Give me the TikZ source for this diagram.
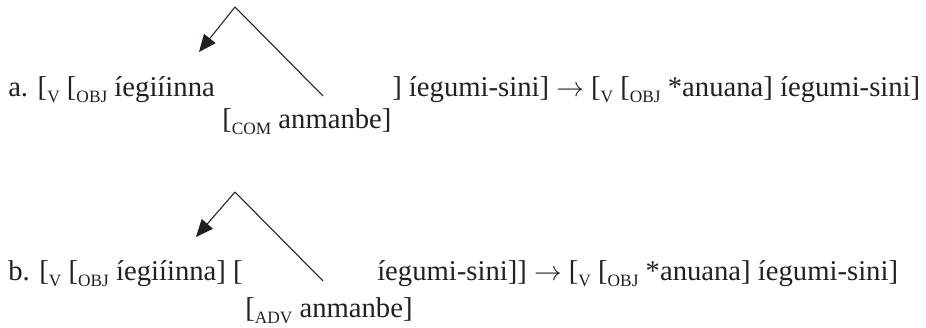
\documentclass[tikz,border=0pt]{standalone}
\usepackage{fontspec}
\setmainfont{Liberation Serif}
\usetikzlibrary{arrows.meta}
\newcommand{\catsub}[1]{\raisebox{-4.5pt}{\fontsize{13}{13}\selectfont #1}}
\definecolor{glossink}{HTML}{231F20}

\begin{document}
\begin{tikzpicture}[
  x=0.75pt,
  y=-0.75pt,
  every node/.style={font=\fontsize{21.5}{26}\selectfont, glossink, inner sep=0pt},
  gloss/.style={anchor=base west},
  moveline/.style={glossink, line width=0.8pt},
  movearrow/.style={glossink, line width=0.8pt, -{Triangle[length=13pt, width=11pt]}}
]
  \useasboundingbox (0,0) rectangle (926,328);

  % ---- example a ----
  \node[gloss] (exaLeft) at (8,97) {a. [\catsub{V} [\catsub{OBJ} íegiíinna};
  \node[gloss] (exaRight) at (392,97)
    {] íegumi-sini] $\rightarrow$ [\catsub{V} [\catsub{OBJ} *anuana] íegumi-sini]};
  \node[gloss] (exaCom) at (222,129) {[\catsub{COM} anmanbe]};

  \coordinate (apexA) at (235,7);
  \coordinate (tipA) at (199,52);
  \coordinate (footA) at (323,96);
  \draw[moveline] (footA) -- (apexA);
  \draw[movearrow] (apexA) -- (tipA);

  % ---- example b ----
  \node[gloss] (exbLeft) at (8,281) {b. [\catsub{V} [\catsub{OBJ} íegiíinna] [};
  \node[gloss] (exbRight) at (377,281)
    {íegumi-sini]] $\rightarrow$ [\catsub{V} [\catsub{OBJ} *anuana] íegumi-sini]};
  \node[gloss] (exbAdv) at (245,317) {[\catsub{ADV} anmanbe]};

  \coordinate (apexB) at (235,192);
  \coordinate (tipB) at (196,237);
  \coordinate (footB) at (323,281);
  \draw[moveline] (footB) -- (apexB);
  \draw[movearrow] (apexB) -- (tipB);
\end{tikzpicture}
\end{document}
